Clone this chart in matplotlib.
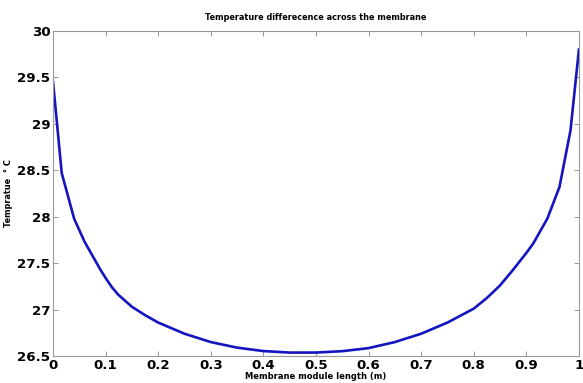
import matplotlib
matplotlib.use("Agg")
import matplotlib.pyplot as plt

# membrane position (m) and temperature difference (deg C)
length = [0.0, 0.0165, 0.04, 0.06, 0.08, 0.09, 0.10, 0.112, 0.124, 0.15,
          0.175, 0.20, 0.25, 0.30, 0.35, 0.40, 0.45, 0.50, 0.55, 0.60,
          0.65, 0.70, 0.75, 0.80, 0.825, 0.85, 0.875, 0.90, 0.913, 0.94,
          0.963, 0.984, 1.0]
temp = [29.45, 28.47, 27.98, 27.73, 27.53, 27.43, 27.34, 27.24, 27.16, 27.03,
        26.94, 26.86, 26.74, 26.65, 26.59, 26.553, 26.537, 26.537, 26.552, 26.585,
        26.65, 26.74, 26.86, 27.01, 27.125, 27.26, 27.43, 27.61, 27.71, 27.98,
        28.32, 28.93, 29.80]

xticks = [0, 0.1, 0.2, 0.3, 0.4, 0.5, 0.6, 0.7, 0.8, 0.9, 1]
xlabels = ['0', '0.1', '0.2', '0.3', '0.4', '0.5', '0.6', '0.7', '0.8', '0.9', '1']
yticks = [26.5, 27, 27.5, 28, 28.5, 29, 29.5, 30]
ylabels = ['26.5', '27', '27.5', '28', '28.5', '29', '29.5', '30']

fig = plt.figure(figsize=(5.83, 3.83), dpi=100)
ax = fig.add_axes([0.091, 0.0705, 0.902, 0.8485])

ax.plot(length, temp, color='#1515c0', linewidth=1.9)

ax.set_xlim(0, 1)
ax.set_ylim(26.5, 30)
ax.set_xticks(xticks)
ax.set_xticklabels(xlabels, fontsize=9.6, fontweight='bold')
ax.set_yticks(yticks)
ax.set_yticklabels(ylabels, fontsize=9.6, fontweight='bold')
ax.tick_params(direction='in', length=3.5, width=0.6, color='#888888',
               top=True, right=True, pad=2)

for s in ax.spines.values():
    s.set_color('#999999')
    s.set_linewidth(0.8)

ax.set_title('Temperature differecence across the membrane', fontsize=5.9,
             fontweight='bold', pad=8)
ax.set_xlabel('Membrane module length (m)', fontsize=6, fontweight='bold',
              labelpad=0)
ax.set_ylabel('Tempratue  \u00b0 C', fontsize=5.9, fontweight='bold')
ax.yaxis.set_label_coords(-0.076, 0.5)

fig.savefig('out.png', dpi=100)
